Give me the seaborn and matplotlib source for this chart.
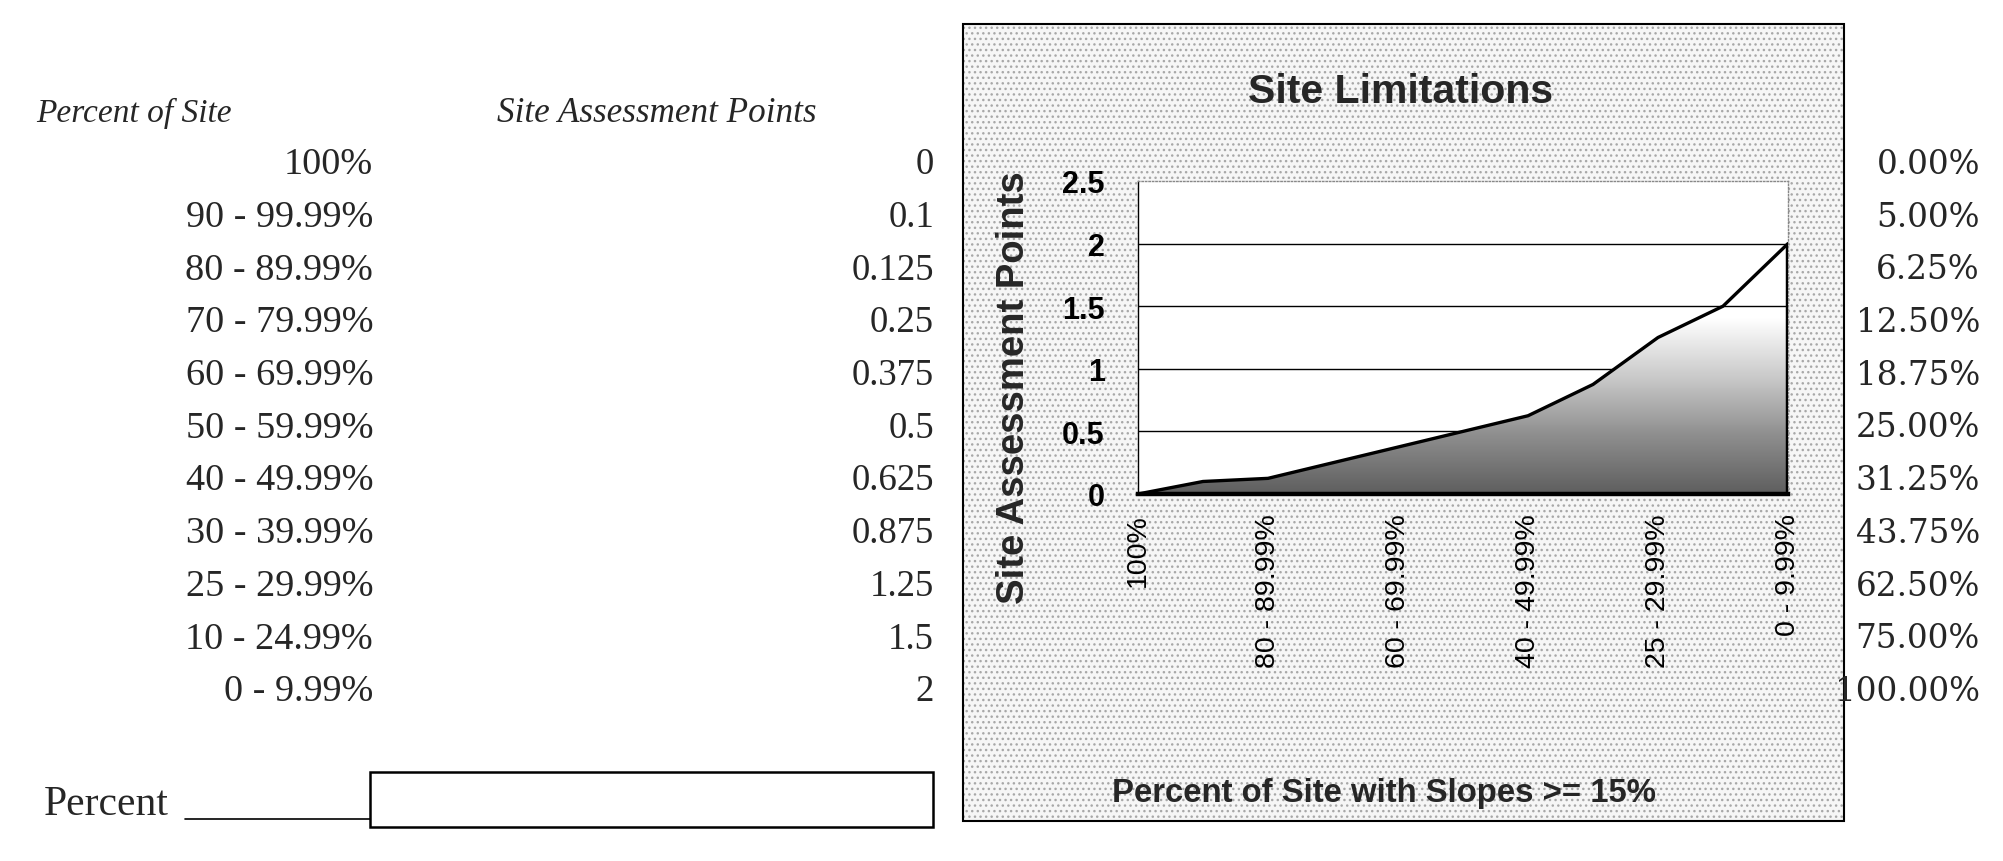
import numpy as np
import matplotlib
matplotlib.use("Agg")
import matplotlib.pyplot as plt
import matplotlib.colors as mcolors
from matplotlib.patches import Rectangle
from matplotlib.lines import Line2D
import seaborn as sns

# table / chart data
ranges = ["100%", "90 - 99.99%", "80 - 89.99%", "70 - 79.99%", "60 - 69.99%",
          "50 - 59.99%", "40 - 49.99%", "30 - 39.99%", "25 - 29.99%",
          "10 - 24.99%", "0 - 9.99%"]
points = [0, 0.1, 0.125, 0.25, 0.375, 0.5, 0.625, 0.875, 1.25, 1.5, 2]
right_pcts = ["0.00%", "5.00%", "6.25%", "12.50%", "18.75%", "25.00%",
              "31.25%", "43.75%", "62.50%", "75.00%", "100.00%"]
y_ticks = [0, 0.5, 1, 1.5, 2, 2.5]

W, H = 2003, 862
sns.set_style("white")
plt.rcParams['font.family'] = ['Liberation Serif', 'DejaVu Serif']

fig = plt.figure(figsize=(W / 100, H / 100), dpi=100)


def fx(px):
    return px / W


def fy(py):
    return 1 - py / H


# ---- left table ----
row0, dy = 165, 52.7
fig.text(fx(36), fy(122), "Percent of Site", style='italic', fontsize=24,
         ha='left', va='baseline')
fig.text(fx(497), fy(122), "Site Assessment Points", style='italic', fontsize=25.3,
         ha='left', va='baseline')
for i, (r, p, q) in enumerate(zip(ranges, points, right_pcts)):
    yy = fy(row0 + i * dy)
    fig.text(fx(373), yy, r, fontsize=27.5, ha='right', va='center')
    fig.text(fx(934), yy, f"{p:g}", fontsize=26.5, ha='right', va='center')
    fig.text(fx(1980), yy, q, fontsize=23.5, fontfamily='DejaVu Serif',
             ha='right', va='center')

fig.text(fx(44), fy(815), "Percent", fontsize=30, ha='left', va='baseline')
fig.add_artist(Line2D([fx(185), fx(370)], [fy(820), fy(820)], color='black', lw=1.2))
fig.patches.append(Rectangle((fx(370), fy(828)), fx(933) - fx(370), fy(773) - fy(828),
                             transform=fig.transFigure, facecolor='white',
                             edgecolor='black', lw=1.8))

# ---- chart background (stippled) ----
bx0, bx1, by0, by1 = 963, 1844, 25, 822
fig.patches.append(Rectangle((fx(bx0), fy(by1)), fx(bx1) - fx(bx0), fy(by0) - fy(by1),
                             transform=fig.transFigure, facecolor='#f6f6f6',
                             edgecolor='#a8a8a8', hatch='...', lw=0, zorder=-2))
fig.patches.append(Rectangle((fx(bx0), fy(by1)), fx(bx1) - fx(bx0), fy(by0) - fy(by1),
                             transform=fig.transFigure, facecolor='none',
                             edgecolor='black', lw=1.5, zorder=-1))

# ---- chart axes ----
ax_l, ax_r, ax_t, ax_b = 1138, 1788, 182, 495
ax = fig.add_axes([fx(ax_l), fy(ax_b), fx(ax_r) - fx(ax_l), fy(ax_t) - fy(ax_b)])
ax.set_zorder(3)
ax.set_facecolor('white')

pos = np.arange(len(ranges))

# gridlines beneath the area
ax.hlines(y_ticks[1:-1], pos[0], pos[-1], colors='black', lw=1, zorder=1)

# gradient-filled area
fill = ax.fill_between(pos, points, 0, facecolor='none', edgecolor='none')
cmap = mcolors.LinearSegmentedColormap.from_list(
    "g", ["#5e5e5e", "#8e8e8e", "#cacaca", "#ffffff"])
grad = np.linspace(0, 1, 256).reshape(-1, 1)
img = ax.imshow(grad, extent=[pos[0], pos[-1], 0, 1.4], origin='lower',
                aspect='auto', cmap=cmap, zorder=2, interpolation='bilinear')
img.set_clip_path(fill.get_paths()[0], ax.transData)

sns.lineplot(x=pos, y=points, ax=ax, color='black', lw=2.4, zorder=4)
ax.vlines(pos[-1], 0, points[-1], colors='black', lw=3.2, zorder=4)

ax.set_xlim(pos[0], pos[-1])
ax.set_ylim(0, 2.5)
ax.set_yticks(y_ticks)
ax.set_yticklabels([f"{v:g}" for v in y_ticks], fontfamily='Liberation Sans',
                   fontweight='bold', fontsize=22)
ax.set_xticks(pos)
ax.set_xticklabels([r if i % 2 == 0 else "" for i, r in enumerate(ranges)],
                   rotation=90, ha='center', va='top',
                   fontfamily='Liberation Sans', fontsize=20.5)
ax.tick_params(axis='y', direction='out', length=9, width=1, pad=15, colors='black')
ax.tick_params(axis='x', direction='out', length=10, width=1.2, pad=4, colors='black')

for s in ['top', 'right']:
    ax.spines[s].set_color('#888888')
    ax.spines[s].set_linestyle((0, (1, 1.5)))
    ax.spines[s].set_linewidth(1)
ax.spines['left'].set_color('black')
ax.spines['left'].set_linewidth(1)
ax.spines['bottom'].set_color('black')
ax.spines['bottom'].set_linewidth(3.2)
ax.spines['bottom'].set_zorder(5)

fig.text(fx(1400), fy(92), "Site Limitations", fontfamily='Liberation Sans',
         fontweight='bold', fontsize=29.5, ha='center', va='center')
fig.text(fx(1014), fy(388), "Site Assessment Points", fontfamily='Liberation Sans',
         fontweight='bold', fontsize=27.5, rotation=90, ha='center', va='center')
fig.text(fx(1384), fy(802), "Percent of Site with Slopes >= 15%", fontfamily='Liberation Sans',
         fontweight='bold', fontsize=23.7, ha='center', va='baseline')

fig.savefig("out.png", dpi=100)
